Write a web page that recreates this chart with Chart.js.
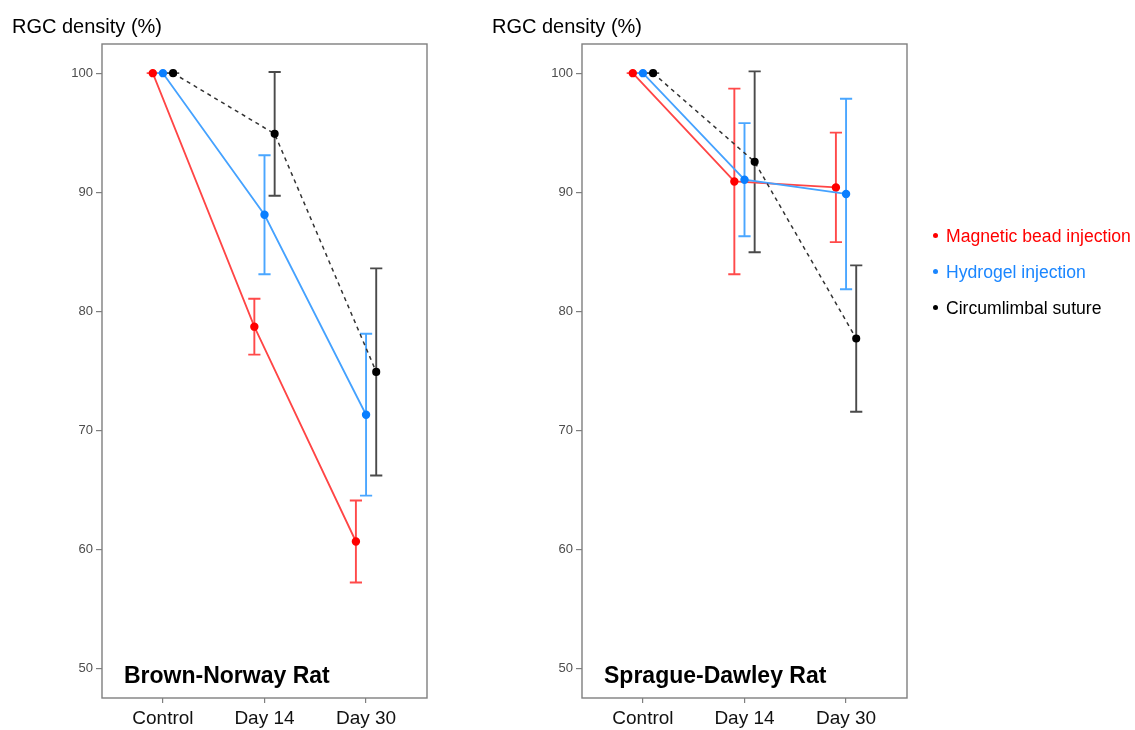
<!DOCTYPE html>
<html>
<head>
<meta charset="utf-8">
<script src="https://cdn.jsdelivr.net/npm/chart.js@4"></script>
<style>
  body { margin: 0; background: #fff; width: 1135px; height: 730px; overflow: hidden; position: relative; font-family: "Liberation Sans", Arial, sans-serif; }
  .panel { position: absolute; top: 0; width: 480px; height: 730px; }
  #legend { position: absolute; left: 933px; top: 218px; font-size: 17.6px; line-height: 36px; }
  #legend div { white-space: nowrap; }
  #legend span.dot { display: inline-block; width: 5px; height: 5px; border-radius: 50%; margin-right: 8px; vertical-align: middle; position: relative; top: -2px; }
</style>
</head>
<body>
<div class="panel" style="left:0"><canvas id="bnChart" width="480" height="730"></canvas></div>
<div class="panel" style="left:480px"><canvas id="sdChart" width="480" height="730"></canvas></div>
<div id="legend"></div>

<script>
// categories and tick labels
const days = ['Control', 'Day 14', 'Day 30'];
const groups = ['Magnetic bead injection', 'Hydrogel injection', 'Circumlimbal suture'];
const yTicks = [50, 60, 70, 80, 90, 100];

// Brown-Norway rat: mean and error (+/-)
const bnMagnetic = [100, 78.7, 60.65];
const bnMagneticErr = [0, 2.35, 3.45];
const bnHydrogel = [100, 88.1, 71.3];
const bnHydrogelErr = [0, 5.0, 6.8];
const bnSuture = [100, 94.9, 74.9];
const bnSutureErr = [0, 5.2, 8.7];

// Sprague-Dawley rat
const sdMagnetic = [100, 90.9, 90.4];
const sdMagneticErr = [0, 7.8, 4.6];
const sdHydrogel = [100, 91.05, 89.85];
const sdHydrogelErr = [0, 4.75, 8.0];
const sdSuture = [100, 92.55, 77.7];
const sdSutureErr = [0, 7.6, 6.15];

const dodge = [-0.1, 0, 0.1];
const pointColors = ['#ff0000', '#0a7fff', '#000000'];
const lineColors = ['#ff4545', '#45a2ff', '#333333'];
const errColors = ['#ff4a4a', '#4aa6ff', '#4a4a4a'];
const FONT = '"Liberation Sans", Arial, sans-serif';

function makeDatasets(series, errs) {
  return series.map((vals, g) => ({
    label: groups[g],
    data: vals.map((v, i) => ({ x: i + 1 + dodge[g], y: v, err: errs[g][i] })),
    borderColor: lineColors[g],
    backgroundColor: pointColors[g],
    pointBackgroundColor: pointColors[g],
    pointBorderColor: pointColors[g],
    pointRadius: 3.3,
    pointHoverRadius: 3.3,
    borderWidth: g === 2 ? 1.5 : 1.8,
    borderDash: g === 2 ? [4, 4] : [],
    tension: 0,
    order: 3 - g
  }));
}

const errorBars = {
  id: 'errorBars',
  beforeDatasetsDraw(chart) {
    const { ctx, scales: { x, y } } = chart;
    ctx.save();
    chart.data.datasets.forEach((ds, g) => {
      ctx.strokeStyle = errColors[g];
      ctx.lineWidth = 1.9;
      ds.data.forEach(p => {
        const px = x.getPixelForValue(p.x);
        const hw = x.getPixelForValue(p.x + 0.06) - px;
        const top = y.getPixelForValue(p.y + p.err);
        const bot = y.getPixelForValue(p.y - p.err);
        ctx.beginPath();
        ctx.moveTo(px, top); ctx.lineTo(px, bot);
        ctx.moveTo(px - hw, top); ctx.lineTo(px + hw, top);
        ctx.moveTo(px - hw, bot); ctx.lineTo(px + hw, bot);
        ctx.stroke();
      });
    });
    ctx.restore();
  }
};

const frameAndTitles = {
  id: 'frameAndTitles',
  afterDraw(chart, args, opts) {
    const { ctx, chartArea: a } = chart;
    ctx.save();
    ctx.strokeStyle = '#7f7f7f';
    ctx.lineWidth = 1.4;
    ctx.strokeRect(a.left, a.top, a.right - a.left, a.bottom - a.top);
    ctx.fillStyle = '#000';
    ctx.font = '20px ' + FONT;
    ctx.textBaseline = 'alphabetic';
    ctx.fillText('RGC density (%)', 12, 33);
    ctx.font = 'bold 23px ' + FONT;
    ctx.fillText(opts.panel, a.left + 22, 683);
    ctx.restore();
  }
};

function makeChart(id, datasets, panel) {
  return new Chart(document.getElementById(id), {
    type: 'line',
    data: { datasets },
    plugins: [errorBars, frameAndTitles],
    options: {
      responsive: false,
      animation: false,
      layout: { padding: { top: 44, right: 53, bottom: 0, left: 0 } },
      plugins: {
        legend: { display: false },
        tooltip: { enabled: false },
        frameAndTitles: { panel }
      },
      scales: {
        x: {
          type: 'linear',
          min: 0.4,
          max: 3.6,
          afterFit: s => { s.height = 32; },
          afterBuildTicks: s => { s.ticks = days.map((d, i) => ({ value: i + 1 })); },
          ticks: {
            callback: v => days[v - 1],
            color: '#111',
            font: { family: FONT, size: 19 },
            padding: 4,
            maxRotation: 0
          },
          grid: { drawOnChartArea: false, tickLength: 5, color: '#7f7f7f', lineWidth: 1.2 },
          border: { display: false }
        },
        y: {
          min: 47.5,
          max: 102.45,
          afterFit: s => { s.width = 102; },
          afterBuildTicks: s => { s.ticks = yTicks.map(v => ({ value: v })); },
          ticks: {
            color: '#4d4d4d',
            font: { family: FONT, size: 13 },
            padding: 3
          },
          grid: { drawOnChartArea: false, tickLength: 6, color: '#7f7f7f', lineWidth: 1.2 },
          border: { display: false }
        }
      }
    }
  });
}

makeChart('bnChart', makeDatasets([bnMagnetic, bnHydrogel, bnSuture], [bnMagneticErr, bnHydrogelErr, bnSutureErr]), 'Brown-Norway Rat');
makeChart('sdChart', makeDatasets([sdMagnetic, sdHydrogel, sdSuture], [sdMagneticErr, sdHydrogelErr, sdSutureErr]), 'Sprague-Dawley Rat');

// legend
const legendColors = ['#ff0000', '#1a86ff', '#000000'];
const legend = document.getElementById('legend');
groups.forEach((g, i) => {
  const row = document.createElement('div');
  row.style.color = legendColors[i];
  row.innerHTML = '<span class="dot" style="background:' + legendColors[i] + '"></span>' + g;
  legend.appendChild(row);
});
</script>
</body>
</html>
